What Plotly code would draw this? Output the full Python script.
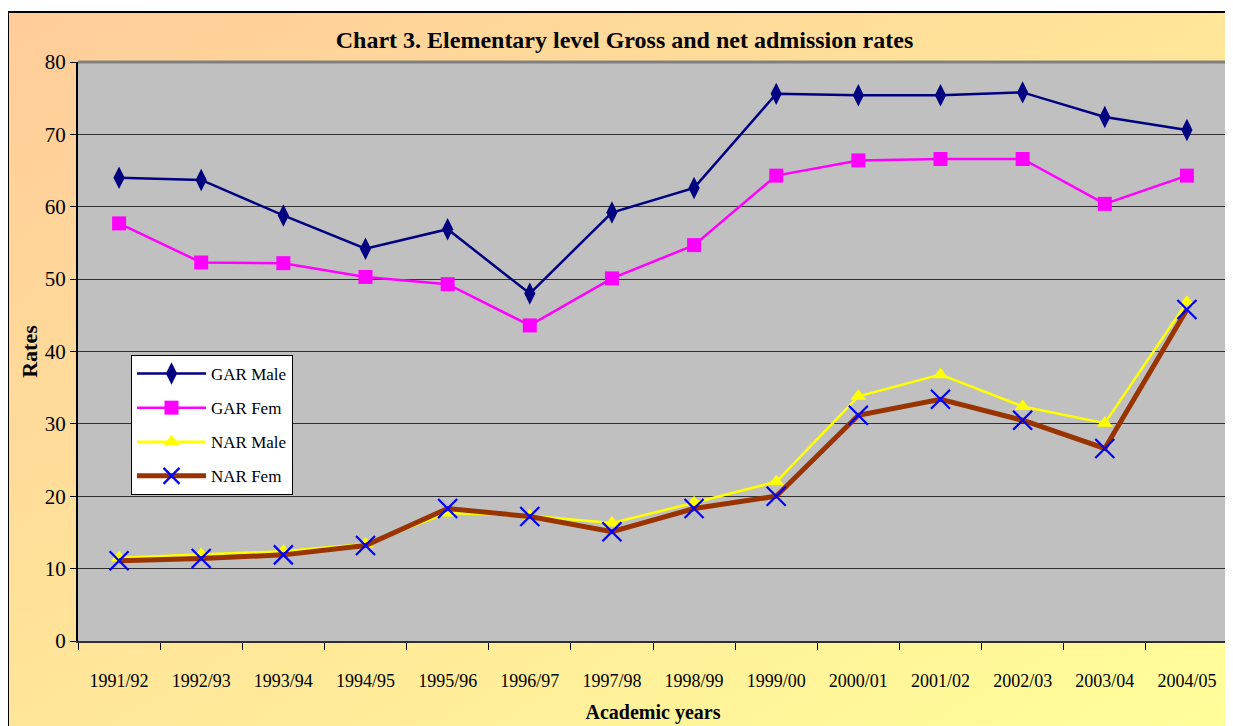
import base64
import plotly.graph_objects as go

years = ["1991/92", "1992/93", "1993/94", "1994/95", "1995/96", "1996/97", "1997/98",
         "1998/99", "1999/00", "2000/01", "2001/02", "2002/03", "2003/04", "2004/05"]
gar_male = [64.0, 63.7, 58.8, 54.2, 56.9, 48.0, 59.2, 62.6, 75.6, 75.4, 75.4, 75.8, 72.4, 70.6]
gar_fem = [57.7, 52.3, 52.2, 50.3, 49.3, 43.6, 50.1, 54.7, 64.3, 66.4, 66.6, 66.6, 60.4, 64.3]
nar_male = [11.5, 12.0, 12.4, 13.4, 17.7, 17.3, 16.3, 19.1, 22.0, 33.8, 36.8, 32.4, 30.1, 46.8]
nar_fem = [11.1, 11.4, 11.9, 13.2, 18.3, 17.2, 15.1, 18.3, 20.0, 31.2, 33.4, 30.5, 26.6, 45.8]

W, H = 1233, 726
OFF = 8  # page body margin
ML, MR, MT, MB = 70, 13, 54, 93
PW, PH = W - ML - MR, H - MT - MB
FONT = "Liberation Serif"


def px2x(px):
    return (px - OFF - ML) / PW


def py2y(py):
    return (H - MB - (py - OFF)) / PH


svg = ('<svg xmlns="http://www.w3.org/2000/svg" width="1225" height="714" preserveAspectRatio="none">'
       '<defs><linearGradient id="g" x1="0" y1="0" x2="1" y2="1">'
       '<stop offset="0" stop-color="#FFCC99"/><stop offset="1" stop-color="#FFFF99"/>'
       '</linearGradient></defs><rect width="100%" height="100%" fill="url(#g)"/></svg>')
src = "data:image/svg+xml;base64," + base64.b64encode(svg.encode()).decode()

fig = go.Figure()
fig.add_trace(go.Scatter(x=years, y=gar_male, name="GAR Male", mode="lines+markers",
                         legendgroup="a",
                         line=dict(color="#000080", width=2.5),
                         marker=dict(symbol="diamond-tall", size=16, color="#000080")))
fig.add_trace(go.Scatter(x=years, y=gar_fem, name="GAR Fem", mode="lines+markers",
                         legendgroup="b",
                         line=dict(color="#FF00FF", width=2.5),
                         marker=dict(symbol="square", size=14, color="#FF00FF")))
fig.add_trace(go.Scatter(x=years, y=nar_male, name="NAR Male", mode="lines+markers",
                         legendgroup="c",
                         line=dict(color="#FFFF00", width=2.5),
                         marker=dict(symbol="triangle-up", size=14, color="#FFFF00")))
fig.add_trace(go.Scatter(x=years, y=nar_fem, name="NAR Fem", mode="lines+markers",
                         legendgroup="d",
                         line=dict(color="#993300", width=5),
                         marker=dict(symbol="x-thin-open", size=19, color="#0000FF",
                                     line=dict(color="#0000FF", width=2.2))))

fig.update_layout(
    width=W, height=H,
    margin=dict(l=ML, r=MR, t=MT, b=MB),
    paper_bgcolor="white",
    plot_bgcolor="rgba(0,0,0,0)",
    font=dict(family=FONT, color="black"),
    title=dict(text="<b>Chart 3. Elementary level Gross and net admission rates</b>",
               x=0.5, xanchor="center", y=1 - (40 - OFF) / H, yanchor="middle",
               font=dict(family=FONT, size=24, color="black")),
    showlegend=True,
    legend=dict(x=px2x(131), y=py2y(355), xanchor="left", yanchor="top",
                bgcolor="white", bordercolor="black", borderwidth=1,
                font=dict(family=FONT, size=17, color="black"),
                traceorder="grouped", tracegroupgap=9, itemwidth=69),
    images=[dict(source=src, xref="paper", yref="paper",
                 x=px2x(8), y=py2y(12), sizex=(W - 8) / PW, sizey=(H - 12) / PH,
                 xanchor="left", yanchor="top", sizing="stretch", layer="below")],
    shapes=[
        dict(type="rect", xref="paper", yref="paper", x0=px2x(8), y0=py2y(H + 20),
             x1=px2x(W + 20), y1=py2y(12), line=dict(color="black", width=2),
             fillcolor="rgba(0,0,0,0)", layer="below"),
        dict(type="rect", xref="paper", yref="paper", x0=0, y0=0, x1=1, y1=1,
             line=dict(width=0), fillcolor="#C0C0C0", layer="below"),
        dict(type="path", xref="paper", yref="paper", path="M0,1 L1,1 L1,0",
             line=dict(color="#808080", width=3), layer="above"),
    ],
)

fig.update_xaxes(
    type="category", range=[-0.5, 13.5], automargin=False,
    showline=True, linecolor="#303030", linewidth=2,
    ticks="outside", tickson="boundaries", ticklen=7, tickcolor="black", tickwidth=1,
    showgrid=False, zeroline=False,
    tickfont=dict(family=FONT, size=18, color="black"),
    ticklabelstandoff=22,
    title=dict(text="<b>Academic years</b>", font=dict(family=FONT, size=20, color="black"),
               standoff=15),
)
fig.update_yaxes(
    range=[0, 80], dtick=10, automargin=False,
    showline=True, linecolor="black", linewidth=2,
    ticks="outside", ticklen=6, tickcolor="black", tickwidth=1,
    showgrid=True, gridcolor="#303030", gridwidth=1, zeroline=False,
    tickfont=dict(family=FONT, size=21, color="black"),
    title=dict(text="<b>Rates</b>", font=dict(family=FONT, size=22, color="black"),
               standoff=1),
)

fig.write_html("out.html")
